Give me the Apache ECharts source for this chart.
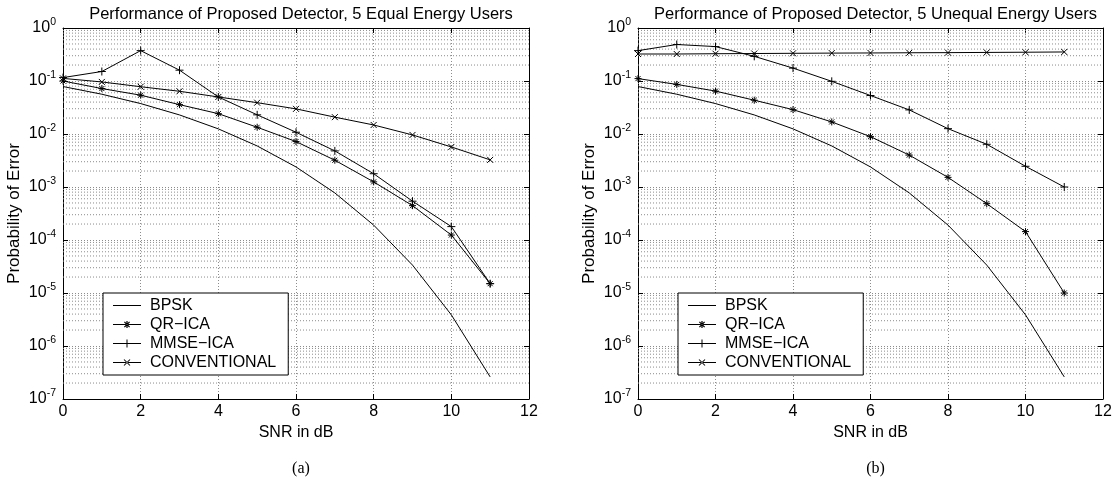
<!DOCTYPE html>
<html><head><meta charset="utf-8">
<script src="https://cdn.jsdelivr.net/npm/echarts@6/dist/echarts.min.js"></script>
<style>html,body{margin:0;padding:0;background:#fff}#c{width:1116px;height:481px}</style>
</head><body><div id="c"></div>
<script>
// ---- data ----
const snr = [0, 1, 2, 3, 4, 5, 6, 7, 8, 9, 10, 11];
const seriesNames = ['BPSK', 'QR\u2212ICA', 'MMSE\u2212ICA', 'CONVENTIONAL'];
const titles = ['Performance of Proposed Detector, 5 Equal Energy Users',
                'Performance of Proposed Detector, 5 Unequal Energy Users'];
const panelLabels = ['(a)', '(b)'];
const xTicks = [0, 2, 4, 6, 8, 10, 12];
const yTickExponents = [-7, -6, -5, -4, -3, -2, -1, 0];

const bpsk = [0.0786, 0.0563, 0.0375, 0.0229, 0.0125, 0.00595, 0.00239, 0.000773, 0.000191, 3.36e-5, 3.87e-6, 2.61e-7];
// panel (a) equal energy
const qrA   = [0.100, 0.072, 0.054, 0.0358, 0.0242, 0.0134, 0.0072, 0.0032, 0.00125, 0.000445, 0.000124, 1.5e-5];
const mmseA = [0.116, 0.151, 0.374, 0.160, 0.050, 0.023, 0.0108, 0.0048, 0.00178, 0.00054, 0.000179, 1.5e-5];
const convA = [0.112, 0.096, 0.078, 0.064, 0.050, 0.039, 0.0298, 0.0208, 0.0148, 0.0096, 0.0057, 0.00325];
// panel (b) unequal energy
const qrB   = [0.111, 0.0863, 0.0645, 0.0434, 0.0288, 0.0169, 0.0089, 0.0040, 0.00152, 0.000485, 0.000144, 1.0e-5];
const mmseB = [0.374, 0.488, 0.446, 0.292, 0.175, 0.0986, 0.0532, 0.0285, 0.0126, 0.0064, 0.00246, 0.00100];
const convB = [0.323, 0.323, 0.327, 0.330, 0.333, 0.336, 0.338, 0.341, 0.343, 0.346, 0.349, 0.353];

const panels = [[bpsk, qrA, mmseA, convA], [bpsk, qrB, mmseB, convB]];

// ---- styling ----
const FONT = 'Liberation Sans, Arial, Helvetica, sans-serif';
const gridColor = '#8c8c8c';
const grids = [
  { left: 63, right: 587, top: 28, bottom: 82 },
  { left: 638, right: 13, top: 28, bottom: 82 }
];
const legendLeft = [103, 678];
const symbols = [
  'none',
  'path://M0,-1V1M-1,0H1M-0.72,-0.72L0.72,0.72M-0.72,0.72L0.72,-0.72',
  'path://M0,-1V1M-1,0H1',
  'path://M-1,-1L1,1M-1,1L1,-1'
];
const symbolSizes = [0, 7, 8, 6];

// legend icons built from thin filled shapes (line + marker)
function hbar(x1, x2, y, t) { return `M${x1},${y - t / 2}H${x2}V${y + t / 2}H${x1}Z`; }
function vbar(x, y1, y2, t) { return `M${x - t / 2},${y1}V${y2}H${x + t / 2}V${y1}Z`; }
function diag(x1, y1, x2, y2, t) {
  const dx = x2 - x1, dy = y2 - y1, L = Math.hypot(dx, dy);
  const nx = -dy / L * t / 2, ny = dx / L * t / 2;
  return `M${x1 + nx},${y1 + ny}L${x2 + nx},${y2 + ny}L${x2 - nx},${y2 - ny}L${x1 - nx},${y1 - ny}Z`;
}
const baseLine = hbar(-14, 14, 0, 1);
const legendIcons = [
  'path://' + baseLine,
  'path://' + baseLine + vbar(0, -3.5, 3.5, 1.2) + hbar(-3.5, 3.5, 0, 1.2) +
    diag(-2.6, -2.6, 2.6, 2.6, 1.2) + diag(-2.6, 2.6, 2.6, -2.6, 1.2),
  'path://' + baseLine + vbar(0, -4, 4, 1) + hbar(-4, 4, 0, 1),
  'path://' + baseLine + diag(-3, -3, 3, 3, 1) + diag(-3, 3, 3, -3, 1)
];

// minor log grid values (2..9 x 10^n)
const minorVals = [];
for (let n = -7; n < 0; n++) for (let k = 2; k <= 9; k++) minorVals.push(k * Math.pow(10, n));
const minorData = [];
minorVals.forEach(v => { minorData.push([xTicks[0], v], [xTicks[xTicks.length - 1], v], [xTicks[xTicks.length - 1], '-']); });

const option = {
  animation: false,
  backgroundColor: '#fff',
  textStyle: { fontFamily: FONT },
  title: [],
  grid: grids,
  xAxis: [],
  yAxis: [],
  legend: [],
  series: []
};

grids.forEach((g, i) => {
  const cx = g.left + (1116 - g.left - g.right) / 2;
  option.title.push({
    text: titles[i], left: cx, top: 1, textAlign: 'center',
    textStyle: { fontFamily: FONT, fontSize: 16.5, fontWeight: 'normal', color: '#000' }
  });
  option.title.push({
    text: panelLabels[i], left: cx, top: 456, textAlign: 'center',
    textStyle: { fontFamily: 'Liberation Serif, Times New Roman, serif', fontSize: 16, fontWeight: 'normal', color: '#000' }
  });
  const axisLine = { onZero: false, lineStyle: { color: '#000', width: 1 } };
  const tick = { show: true, inside: true, length: 5, lineStyle: { color: '#000' } };
  option.xAxis.push({
    gridIndex: i, type: 'value', min: xTicks[0], max: xTicks[xTicks.length - 1], interval: 2,
    position: 'bottom', axisLine, axisTick: tick,
    axisLabel: { color: '#000', fontSize: 16, margin: 5, fontFamily: FONT },
    splitLine: { show: true, lineStyle: { type: [1, 2], color: gridColor, width: 1 } },
    name: 'SNR in dB', nameLocation: 'middle', nameGap: 24,
    nameTextStyle: { color: '#000', fontSize: 16, fontFamily: FONT }
  });
  option.xAxis.push({
    gridIndex: i, type: 'value', min: xTicks[0], max: xTicks[xTicks.length - 1], interval: 2,
    position: 'top', axisLine, axisTick: tick, axisLabel: { show: false }, splitLine: { show: false }
  });
  const yCommon = {
    gridIndex: i, type: 'log', logBase: 10,
    min: Math.pow(10, yTickExponents[0]), max: Math.pow(10, yTickExponents[yTickExponents.length - 1]),
    splitNumber: 7, axisLine, axisTick: tick
  };
  option.yAxis.push(Object.assign({}, yCommon, {
    position: 'left',
    axisLabel: {
      color: '#000', margin: 7, fontFamily: FONT,
      formatter: v => '{b|10}{s|' + Math.round(Math.log10(v)) + '}',
      rich: {
        b: { fontSize: 16, lineHeight: 22, color: '#000', fontFamily: FONT },
        s: { fontSize: 10.5, lineHeight: 10, padding: [0, 0, 12, 0], color: '#000', fontFamily: FONT }
      }
    },
    splitLine: { show: true, lineStyle: { type: [1, 2], color: gridColor, width: 1 } },
    name: 'Probability of Error', nameLocation: 'middle', nameGap: 40,
    nameTextStyle: { color: '#000', fontSize: 17, fontFamily: FONT }
  }));
  option.yAxis.push(Object.assign({}, yCommon, {
    position: 'right', axisLabel: { show: false }, splitLine: { show: false }
  }));

  option.legend.push({
    orient: 'vertical', left: legendLeft[i], top: 293,
    data: seriesNames.map((n, k) => ({ name: n, icon: legendIcons[k] })),
    backgroundColor: '#fff', borderColor: '#000', borderWidth: 1, borderRadius: 0,
    padding: [4, 12, 4, 10], itemGap: 2, itemWidth: 28, itemHeight: 8,
    itemStyle: { color: '#000', borderWidth: 0 },
    textStyle: { color: '#000', fontSize: 16, lineHeight: 17, fontFamily: FONT, padding: [0, 0, 0, 4] },
    selectedMode: false, z: 20
  });

  // minor grid lines (dotted) at 2..9 x 10^n
  option.series.push({
    name: 'minor-grid-' + i, type: 'line', xAxisIndex: 2 * i, yAxisIndex: 2 * i,
    data: minorData, showSymbol: false, symbol: 'none', connectNulls: false,
    lineStyle: { type: [1, 2], color: gridColor, width: 1 },
    silent: true, emphasis: { disabled: true }, z: 1
  });

  panels[i].forEach((arr, s) => {
    option.series.push({
      name: seriesNames[s], type: 'line', xAxisIndex: 2 * i, yAxisIndex: 2 * i,
      data: snr.map((x, j) => [x, arr[j]]),
      symbol: symbols[s], symbolSize: symbolSizes[s], showSymbol: s !== 0,
      lineStyle: { color: '#000', width: 1 },
      itemStyle: { color: '#000', borderColor: '#000', borderWidth: 1 },
      emphasis: { disabled: true }, silent: true, z: 5
    });
  });
});

const chart = echarts.init(document.getElementById('c'), null, { renderer: 'canvas' });
chart.setOption(option);
</script>
</body></html>
